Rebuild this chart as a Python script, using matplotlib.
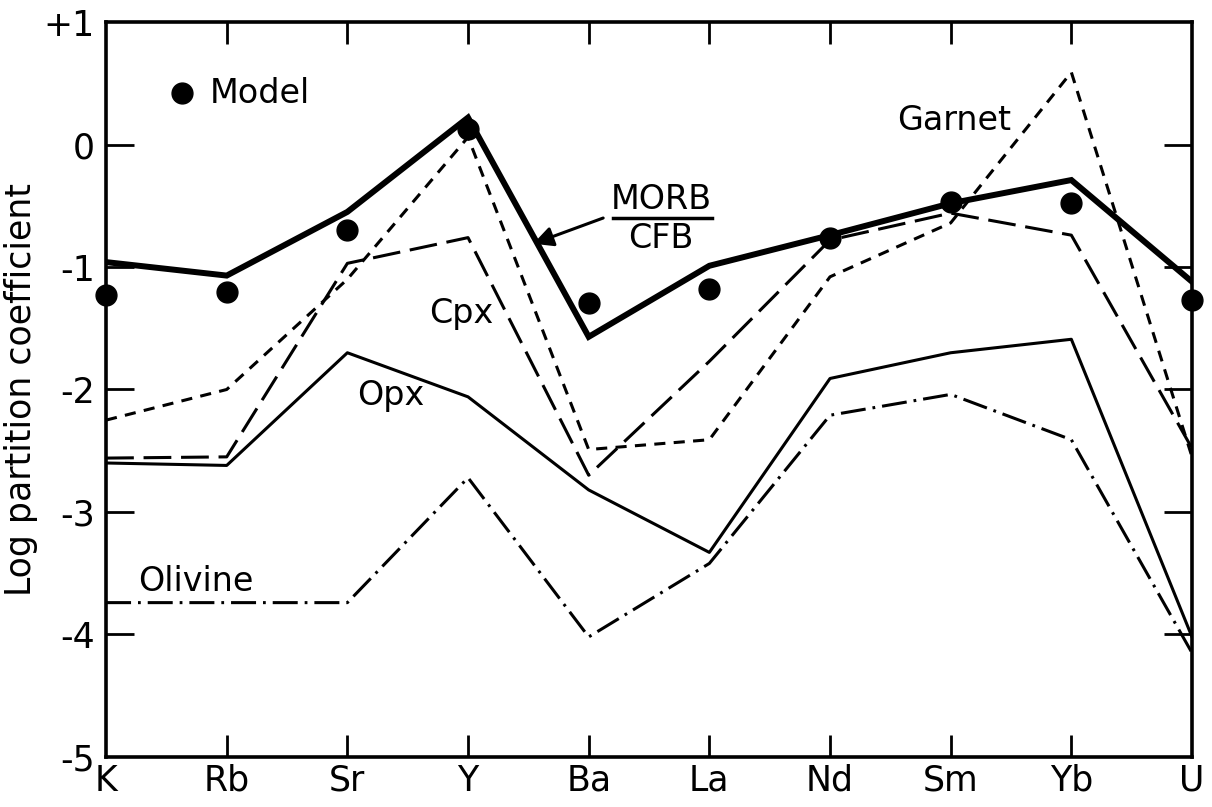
import numpy as np
import matplotlib
matplotlib.use('Agg')
import matplotlib.pyplot as plt

plt.rcParams['font.family'] = ['DejaVu Sans']
plt.rcParams['axes.unicode_minus'] = False
plt.rcParams['lines.scale_dashes'] = False

elements = ['K', 'Rb', 'Sr', 'Y', 'Ba', 'La', 'Nd', 'Sm', 'Yb', 'U']

# log partition coefficients
morb_cfb = [-0.96, -1.07, -0.55, 0.22, -1.57, -0.99, -0.74, -0.48, -0.29, -1.12]
model    = [-1.23, -1.20, -0.70, 0.13, -1.29, -1.18, -0.76, -0.47, -0.48, -1.27]
garnet   = [-2.25, -2.00, -1.10, 0.06, -2.49, -2.41, -1.08, -0.64, 0.59, -2.55]
cpx      = [-2.56, -2.55, -0.97, -0.76, -2.70, -1.77, -0.78, -0.56, -0.74, -2.48]
opx      = [-2.60, -2.62, -1.70, -2.06, -2.82, -3.33, -1.91, -1.70, -1.59, -4.02]
olivine  = [-3.74, -3.74, -3.74, -2.72, -4.02, -3.42, -2.21, -2.04, -2.41, -4.15]

yticks = [1, 0, -1, -2, -3, -4, -5]
ytick_labels = ['+1', '0', '-1', '-2', '-3', '-4', '-5']

x = np.arange(len(elements))

fig = plt.figure(figsize=(12.12, 8.07), dpi=100)
ax = fig.add_axes([0.0875, 0.062, 0.896, 0.9107])

ax.plot(x, morb_cfb, color='black', lw=4.3, solid_joinstyle='miter', zorder=5)
ax.plot(x, garnet, color='black', lw=2.2, dashes=(8, 6))
ax.plot(x, cpx, color='black', lw=2.2, dashes=(20, 7))
ax.plot(x, opx, color='black', lw=2.2)
ax.plot(x, olivine, color='black', lw=2.2, dashes=(18, 5, 2, 5))
ax.plot(x, model, 'o', color='black', ms=15, zorder=6, clip_on=False)

# legend dot and curve labels
ax.plot([0.63], [0.42], 'o', color='black', ms=15)
ax.text(0.86, 0.42, 'Model', fontsize=24, va='center', ha='left')
ax.text(7.03, 0.2, 'Garnet', fontsize=24, va='center', ha='center')
ax.text(2.94, -1.38, 'Cpx', fontsize=24, va='center', ha='center')
ax.text(2.36, -2.05, 'Opx', fontsize=24, va='center', ha='center')
ax.text(0.74, -3.57, 'Olivine', fontsize=24, va='center', ha='center')

ax.text(4.6, -0.45, 'MORB', fontsize=24, va='center', ha='center')
ax.text(4.6, -0.77, 'CFB', fontsize=24, va='center', ha='center')
ax.plot([4.2, 5.02], [-0.6, -0.6], color='black', lw=2.5)
ax.annotate('', xy=(3.54, -0.81), xytext=(4.12, -0.6),
            arrowprops=dict(arrowstyle='-|>', color='black', lw=2.2,
                            mutation_scale=30, shrinkA=0, shrinkB=0))

ax.set_xlim(0, 9)
ax.set_ylim(-5, 1)
ax.set_xticks(x)
ax.set_xticklabels(elements, fontsize=25)
ax.set_yticks(yticks)
ax.set_yticklabels(ytick_labels, fontsize=25)
ax.tick_params(axis='x', direction='in', length=16, width=2, top=True, pad=5)
ax.tick_params(axis='y', direction='in', length=20, width=2, right=True, pad=8)
for t in ax.xaxis.get_major_ticks()[::9]:
    t.tick1line.set_visible(False)
    t.tick2line.set_visible(False)
for t in ax.yaxis.get_major_ticks():
    if t.get_loc() in (1, -5):
        t.tick1line.set_visible(False)
        t.tick2line.set_visible(False)
for s in ax.spines.values():
    s.set_linewidth(2.6)

ax.set_ylabel('Log partition coefficient', fontsize=25, labelpad=4)

fig.savefig('out.png', dpi=100)
